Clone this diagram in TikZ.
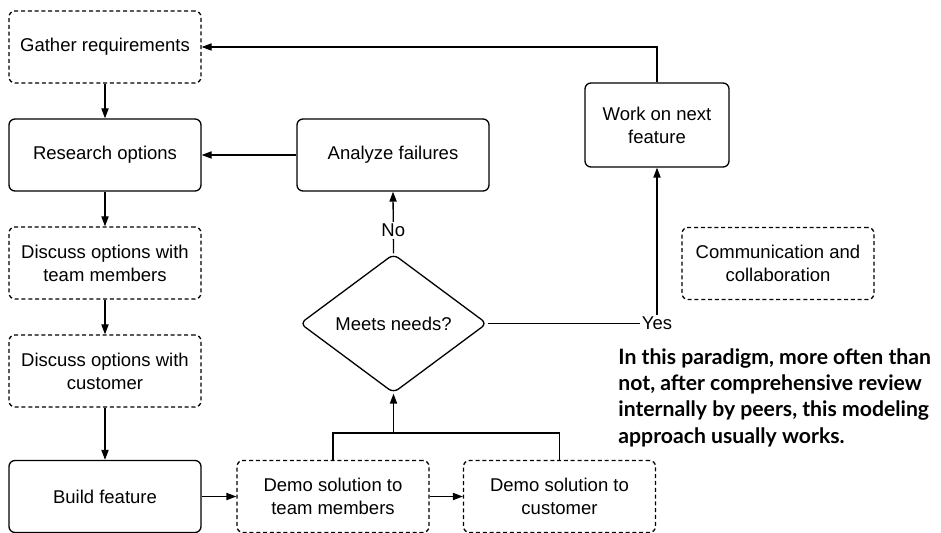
\documentclass[tikz,border=0pt]{standalone}
\usepackage{fontspec}
\setmainfont{Liberation Sans}
\newfontfamily\notefont{Lato}
\usetikzlibrary{arrows.meta,shapes.geometric}

\begin{document}
\begin{tikzpicture}[x=0.5pt,y=-0.5pt,
  every node/.style={font=\fontsize{9.25}{11.5}\selectfont, text=black},
  boxbase/.style={draw, rounded corners=3pt, line width=0.65pt, align=center,
    inner sep=0pt, minimum width=96pt, minimum height=36pt},
  solidbox/.style={boxbase},
  dashbox/.style={boxbase, dash pattern=on 2pt off 1.4pt},
  decision/.style={draw, diamond, rounded corners=3pt, line width=0.65pt,
    inner sep=0pt, minimum width=93.5pt, minimum height=69.5pt},
  arr/.style={-{Triangle[length=5pt,width=3.6pt]}, line width=0.65pt},
  link/.style={line width=0.65pt},
  lbl/.style={fill=white, inner sep=1pt}
]
\useasboundingbox (0,0) rectangle (941,533);

% left column
\node[dashbox]  (gather)   at (105,47)    {Gather requirements};
\node[solidbox] (research) at (105,155)   {Research options};
\node[dashbox]  (dteam)    at (105,263)   {Discuss options with\\team members};
\node[dashbox]  (dcust)    at (105,371)   {Discuss options with\\customer};
\node[solidbox] (build)    at (105,496.5) {Build feature};

% bottom row
\node[dashbox]  (demoteam) at (333,496.5)   {Demo solution to\\team members};
\node[dashbox]  (democust) at (559.5,496.5) {Demo solution to\\customer};

% middle and right
\node[solidbox] (analyze) at (393,155) {Analyze failures};
\node[decision] (meets)   at (393.5,323.5) {Meets needs?};
\node[solidbox, minimum width=72pt, minimum height=42pt] (work) at (657,125)
  {Work on next\\feature};
\node[dashbox]  (comm) at (778,263.5) {Communication and\\collaboration};
\node[inner sep=1pt] (yes) at (657,323.5) {Yes};

\node[anchor=north west, align=left, inner sep=0pt,
  font=\notefont\bfseries\fontsize{10.6}{13.2}\selectfont] (note) at (618,348)
  {In this paradigm, more often than\\not, after comprehensive review\\internally by peers, this modeling\\approach usually works.};

\coordinate (merge) at (393.5,433);

% connectors
\draw[arr] (gather) -- (research);
\draw[arr] (research) -- (dteam);
\draw[arr] (dteam) -- (dcust);
\draw[arr] (dcust) -- (build);
\draw[arr] (build) -- (demoteam);
\draw[arr] (demoteam) -- (democust);
\draw[link] (demoteam.north) |- (merge) -| (democust.north);
\draw[arr] (merge) -- (meets.south);
\draw[arr] (meets.north) -- node[lbl, pos=0.37] {No} (analyze.south);
\draw[arr] (analyze) -- (research);
\draw[link] (meets.east) -- (yes.west);
\draw[arr] (yes.north) -- (work.south);
\draw[arr] (work.north) |- (gather.east);
\end{tikzpicture}
\end{document}
